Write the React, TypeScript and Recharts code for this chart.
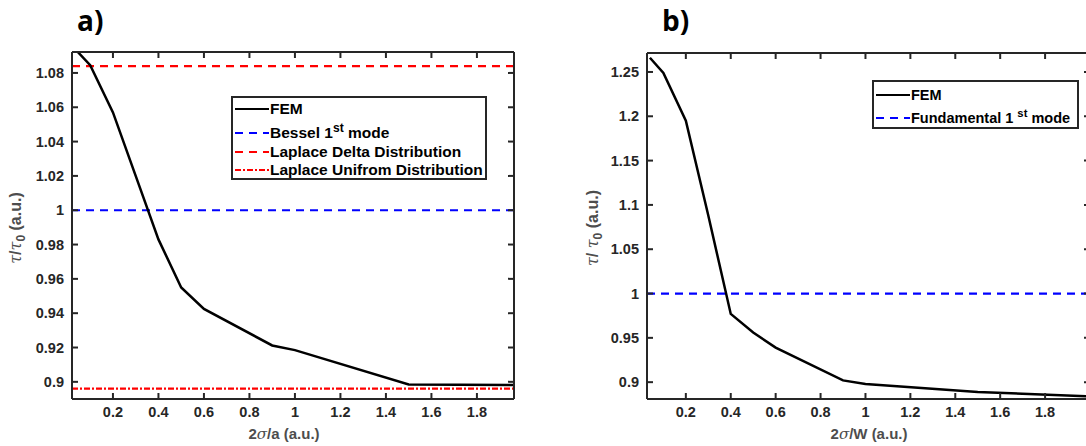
import React from 'react';
import { LineChart, Line, XAxis, YAxis, ReferenceLine, Legend } from 'recharts';

// panel a) FEM curve
const femXA = [0.04, 0.1, 0.2, 0.3, 0.4, 0.5, 0.6, 0.9, 1.0, 1.5, 1.96];
const femYA = [1.093, 1.0845, 1.057, 1.02, 0.983, 0.955, 0.9425, 0.9212, 0.9185, 0.8985, 0.8982];
const besselA = 1;
const laplaceDeltaA = 1.084;
const laplaceUniformA = 0.896;

// panel b) FEM curve
const femXB = [0.04, 0.1, 0.2, 0.3, 0.4, 0.5, 0.6, 0.9, 1.0, 1.5, 2.0];
const femYB = [1.266, 1.249, 1.195, 1.088, 0.977, 0.956, 0.939, 0.902, 0.898, 0.889, 0.884];
const fundamentalB = 1;

const xTicks = [0.2, 0.4, 0.6, 0.8, 1, 1.2, 1.4, 1.6, 1.8];
const yTicksA = [0.9, 0.92, 0.94, 0.96, 0.98, 1, 1.02, 1.04, 1.06, 1.08];
const yTicksB = [0.9, 0.95, 1, 1.05, 1.1, 1.15, 1.2, 1.25];

const legendA = ['FEM', 'Bessel 1st mode', 'Laplace Delta Distribution', 'Laplace Unifrom Distribution'];
const legendB = ['FEM', 'Fundamental 1 st mode'];

const dataA = femXA.map((x, i) => ({ x, y: femYA[i] }));
const dataB = femXB.map((x, i) => ({ x, y: femYB[i] }));

const AXIS = '#262626';
const FONT = '"Liberation Sans", Arial, sans-serif';
const tickStyle = { fill: AXIS, fontSize: 14.5, fontWeight: 700, fontFamily: FONT };
const fmt = (v: number) => String(parseFloat(v.toFixed(2)));
const blank = () => '';

const samples: Record<string, { color: string; dash?: string }> = {
  FEM: { color: '#000' },
  blue: { color: '#0000ff', dash: '8 6' },
  red: { color: '#ff0000', dash: '8 6' },
  dashdot: { color: '#ff0000', dash: '6 2 2 2' },
};

const renderName = (n: string) => {
  const m = n.match(/^(.*1) ?(st)( mode)$/);
  if (!m) return n;
  return (
    <>
      {m[1]}
      {n.includes('1 st') ? ' ' : ''}
      <sup style={{ fontSize: '0.78em', verticalAlign: 6, lineHeight: 0 }}>{m[2]}</sup>
      {m[3]}
    </>
  );
};

const LegendBox = ({ names, kinds, rows, size }: { names: string[]; kinds: string[]; rows: number[]; size: number }) => (
  <div
    style={{
      position: 'relative',
      width: '100%',
      height: '100%',
      boxSizing: 'border-box',
      border: `2px solid ${AXIS}`,
      background: '#fff',
      fontFamily: FONT,
      fontWeight: 700,
      fontSize: size,
      color: '#000',
    }}
  >
    {names.map((n, i) => {
      const s = samples[kinds[i]];
      return (
        <div key={n} style={{ position: 'absolute', left: 1, top: rows[i] - 10, height: 20, display: 'flex', alignItems: 'center', whiteSpace: 'nowrap' }}>
          <svg width={35} height={6} style={{ marginRight: 1 }}>
            <line x1={1} y1={3} x2={35} y2={3} stroke={s.color} strokeWidth={2.2} strokeDasharray={s.dash} />
          </svg>
          <span>{renderName(n)}</span>
        </div>
      );
    })}
  </div>
);

const axisLine = { stroke: AXIS, strokeWidth: 2 };
const tickLine = { stroke: AXIS, strokeWidth: 2 };

const abs = (left: number, top: number): React.CSSProperties => ({ position: 'absolute', left, top });

// labelled bottom/left axes plus mirrored (inward) tick axes on all four sides
const frameAxes = (domX: number[], domY: number[], yTicks: number[]) => [
  <XAxis key="xb" dataKey="x" type="number" domain={domX} ticks={xTicks} allowDataOverflow height={30}
    tickFormatter={fmt} tick={tickStyle} tickSize={0} tickMargin={8} axisLine={axisLine} tickLine={false} />,
  <XAxis key="xbi" xAxisId="bIn" dataKey="x" orientation="bottom" mirror type="number" domain={domX} ticks={xTicks} allowDataOverflow height={1}
    tickFormatter={blank} tickSize={6} axisLine={false} tickLine={tickLine} />,
  <XAxis key="xt" xAxisId="top" dataKey="x" orientation="top" mirror type="number" domain={domX} ticks={xTicks} allowDataOverflow height={1}
    tickFormatter={blank} tickSize={6} axisLine={axisLine} tickLine={tickLine} />,
  <YAxis key="yl" dataKey="y" type="number" domain={domY} ticks={yTicks} allowDataOverflow width={62}
    tickFormatter={fmt} tick={tickStyle} tickSize={0} tickMargin={8} axisLine={axisLine} tickLine={false} />,
  <YAxis key="yli" yAxisId="lIn" dataKey="y" orientation="left" mirror type="number" domain={domY} ticks={yTicks} allowDataOverflow width={1}
    tickFormatter={blank} tickSize={6} axisLine={false} tickLine={tickLine} />,
  <YAxis key="yr" yAxisId="right" dataKey="y" orientation="right" mirror type="number" domain={domY} ticks={yTicks} allowDataOverflow width={1}
    tickFormatter={blank} tickSize={6} axisLine={axisLine} tickLine={tickLine} />,
];

const App = () => {
  const domXA = [0.02, 1.963];
  const domYA = [0.89, 1.0922];
  const domXB = [0.027, 2.0];
  const domYB = [0.881, 1.2714];

  const xLabelStyle: React.CSSProperties = {
    position: 'absolute',
    fontFamily: FONT,
    fontWeight: 700,
    fontSize: 15,
    color: '#4d4d4d',
    whiteSpace: 'nowrap',
    transform: 'translate(-50%, -50%)',
  };
  const yLabelStyle: React.CSSProperties = {
    ...xLabelStyle,
    fontSize: 16,
    transform: 'translate(-50%, -50%) rotate(-90deg)',
  };
  const greek: React.CSSProperties = { fontFamily: '"DejaVu Serif", serif', fontWeight: 400 };
  const titleStyle: React.CSSProperties = {
    position: 'absolute',
    fontFamily: '"Open Sans", "Liberation Sans", sans-serif',
    fontWeight: 700,
    fontSize: 28,
    color: '#000',
    lineHeight: '30px',
  };

  return (
    <div style={{ position: 'absolute', left: 0, top: 0, width: 1086, height: 446, overflow: 'hidden', background: '#fff' }}>
      <div style={{ ...titleStyle, left: 77, top: 5 }}>a)</div>
      <div style={{ ...titleStyle, left: 662, top: 5 }}>b)</div>

      <div style={abs(0, 0)}>
        <LineChart width={530} height={446} data={dataA} margin={{ top: 52, right: 16, bottom: 17, left: 10 }}>
          {frameAxes(domXA, domYA, yTicksA)}
          <ReferenceLine y={laplaceDeltaA} stroke="#ff0000" strokeWidth={2.2} strokeDasharray="8 6" />
          <ReferenceLine y={besselA} stroke="#0000ff" strokeWidth={2.2} strokeDasharray="8 6" />
          <ReferenceLine y={laplaceUniformA} stroke="#ff0000" strokeWidth={2.2} strokeDasharray="6 2 2 2" />
          <Line type="linear" dataKey="y" stroke="#000" strokeWidth={2.5} dot={false} isAnimationActive={false} />
          <Legend layout="vertical" align="center" verticalAlign="middle"
            wrapperStyle={{ left: 231, top: 96, width: 256, height: 84 }}
            content={() => <LegendBox names={legendA} kinds={['FEM', 'blue', 'red', 'dashdot']} rows={[11, 35, 54, 72]} size={15.5} />} />
        </LineChart>
      </div>

      <div style={abs(546, 0)}>
        <LineChart width={560} height={446} data={dataB} margin={{ top: 53, right: 16, bottom: 17, left: 39 }}>
          {frameAxes(domXB, domYB, yTicksB)}
          <ReferenceLine y={fundamentalB} stroke="#0000ff" strokeWidth={2.2} strokeDasharray="8 6" />
          <Line type="linear" dataKey="y" stroke="#000" strokeWidth={2.5} dot={false} isAnimationActive={false} />
          <Legend layout="vertical" align="center" verticalAlign="middle"
            wrapperStyle={{ left: 326, top: 80, width: 207, height: 49 }}
            content={() => <LegendBox names={legendB} kinds={['FEM', 'blue']} rows={[13, 36]} size={14.5} />} />
        </LineChart>
      </div>

      <div style={{ ...xLabelStyle, left: 284, top: 434 }}>
        2<i style={greek}>σ</i>/a (a.u.)
      </div>
      <div style={{ ...xLabelStyle, left: 869, top: 434 }}>
        2<i style={greek}>σ</i>/W (a.u.)
      </div>
      <div style={{ ...yLabelStyle, left: 17, top: 228 }}>
        <i style={greek}>τ</i>/<i style={greek}>τ</i>
        <sub style={{ fontSize: 12 }}>0</sub> (a.u.)
      </div>
      <div style={{ ...yLabelStyle, left: 594, top: 228 }}>
        <i style={greek}>τ</i>/ <i style={greek}>τ</i>
        <sub style={{ fontSize: 12 }}>0</sub> (a.u.)
      </div>
    </div>
  );
};

export default App;
